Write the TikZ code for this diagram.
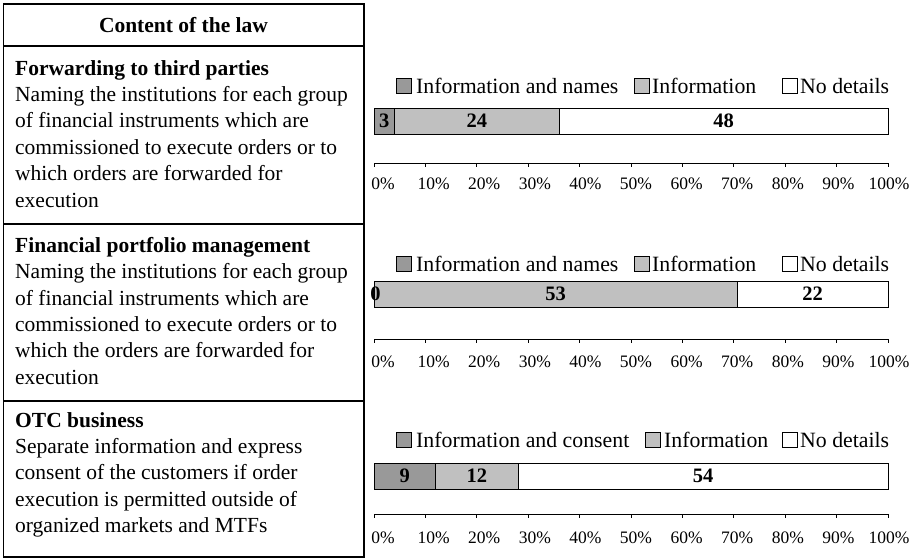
\documentclass[tikz,border=0pt]{standalone}
\usepackage{fontspec}
\setmainfont{Liberation Serif}
\definecolor{segdark}{HTML}{999999}
\definecolor{seglight}{HTML}{C0C0C0}
\tikzset{
  tabletext/.style={anchor=north west, inner sep=0pt, align=left,
    font=\fontsize{21.5}{26.4}\selectfont},
  headtext/.style={inner sep=0pt, font=\fontsize{21.5}{26.4}\selectfont\bfseries},
  legendbox/.style={draw=black, line width=0.8pt, minimum width=15pt, minimum height=15pt, inner sep=0pt},
  legendtext/.style={anchor=west, inner sep=0pt, font=\fontsize{21.8}{24}\selectfont},
  segment/.style={draw=black, line width=0.8pt},
  segnum/.style={inner sep=0pt, font=\fontsize{20.5}{24}\selectfont\bfseries},
  axislabel/.style={inner sep=0pt, font=\fontsize{17.5}{20}\selectfont},
  axisline/.style={line width=0.8pt},
  tableline/.style={line width=1.4pt},
}
\begin{document}
\begin{tikzpicture}[x=1pt,y=-1pt]
\useasboundingbox (0,0) rectangle (916,558);
\fill[white] (0,0) rectangle (916,558);

% ---- table on the left ----
\draw[tableline] (3.5,4) rectangle (364,557);
\draw[tableline] (3.5,46) -- (364,46);
\draw[tableline] (3.5,224) -- (364,224);
\draw[tableline] (3.5,401) -- (364,401);

\node[headtext] (head) at (183.5,25) {Content of the law};

\node[tabletext] (rowA) at (15,60) {\textbf{Forwarding to third parties}\\
Naming the institutions for each group\\
of financial instruments which are\\
commissioned to execute orders or to\\
which orders are forwarded for\\
execution};

\node[tabletext] (rowB) at (15,237) {\textbf{Financial portfolio management}\\
Naming the institutions for each group\\
of financial instruments which are\\
commissioned to execute orders or to\\
which the orders are forwarded for\\
execution};

\node[tabletext] (rowC) at (15,412) {\textbf{OTC business}\\
Separate information and express\\
consent of the customers if order\\
execution is permitted outside of\\
organized markets and MTFs};

% ---- chart 1: forwarding to third parties ----
\node[legendbox, fill=segdark]  (lgA1) at (403.5,86) {};
\node[legendtext] (ltA1) at (416,86) {Information and names};
\node[legendbox, fill=seglight] (lgA2) at (641.5,86) {};
\node[legendtext] (ltA2) at (652,86) {Information};
\node[legendbox, fill=white]    (lgA3) at (790,86) {};
\node[legendtext] (ltA3) at (800,86) {No details};

\filldraw[segment, fill=segdark]  (374,108) rectangle (394.6,134);
\filldraw[segment, fill=seglight] (394.6,108) rectangle (559.0,134);
\filldraw[segment, fill=white]    (559.0,108) rectangle (888,134);
\node[segnum] (nA1) at (384.3,121) {3};
\node[segnum] (nA2) at (476.8,121) {24};
\node[segnum] (nA3) at (723.5,121) {48};

\draw[axisline] (374,163) -- (888,163);
\foreach \p in {0,...,10} {
  \draw[axisline] ({374+51.4*\p},163) -- ({374+51.4*\p},167);
  \node[axislabel] (axA\p) at ({383+50.6*\p},184) {\pgfmathparse{int(10*\p)}\pgfmathresult\%};
}

% ---- chart 2: financial portfolio management ----
\node[legendbox, fill=segdark]  (lgB1) at (403.5,264) {};
\node[legendtext] (ltB1) at (416,264) {Information and names};
\node[legendbox, fill=seglight] (lgB2) at (641.5,264) {};
\node[legendtext] (ltB2) at (652,264) {Information};
\node[legendbox, fill=white]    (lgB3) at (790,264) {};
\node[legendtext] (ltB3) at (800,264) {No details};

\filldraw[segment, fill=seglight] (374,281) rectangle (737.2,307);
\filldraw[segment, fill=white]    (737.2,281) rectangle (888,307);
\node[segnum] (nB1) at (375.5,294) {0};
\node[segnum] (nB2) at (555.6,294) {53};
\node[segnum] (nB3) at (812.6,294) {22};

\draw[axisline] (374,339) -- (888,339);
\foreach \p in {0,...,10} {
  \draw[axisline] ({374+51.4*\p},339) -- ({374+51.4*\p},343);
  \node[axislabel] (axB\p) at ({383+50.6*\p},362) {\pgfmathparse{int(10*\p)}\pgfmathresult\%};
}

% ---- chart 3: OTC business ----
\node[legendbox, fill=segdark]  (lgC1) at (403.5,440) {};
\node[legendtext] (ltC1) at (416,440) {Information and consent};
\node[legendbox, fill=seglight] (lgC2) at (653,440) {};
\node[legendtext] (ltC2) at (664,440) {Information};
\node[legendbox, fill=white]    (lgC3) at (790,440) {};
\node[legendtext] (ltC3) at (800,440) {No details};

\filldraw[segment, fill=segdark]  (374,463) rectangle (435.7,489);
\filldraw[segment, fill=seglight] (435.7,463) rectangle (517.9,489);
\filldraw[segment, fill=white]    (517.9,463) rectangle (888,489);
\node[segnum] (nC1) at (404.8,476) {9};
\node[segnum] (nC2) at (476.8,476) {12};
\node[segnum] (nC3) at (703,476) {54};

\draw[axisline] (374,514) -- (888,514);
\foreach \p in {0,...,10} {
  \draw[axisline] ({374+51.4*\p},514) -- ({374+51.4*\p},518);
  \node[axislabel] (axC\p) at ({383+50.6*\p},538) {\pgfmathparse{int(10*\p)}\pgfmathresult\%};
}
\end{tikzpicture}
\end{document}
